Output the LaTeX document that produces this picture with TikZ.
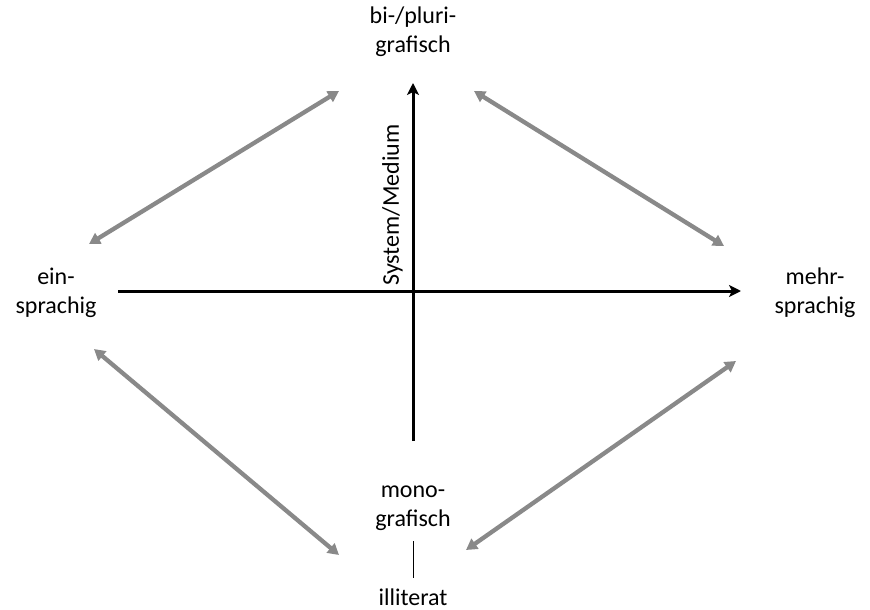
\documentclass[tikz,border=0pt]{standalone}
\usepackage{fontspec}
\setmainfont{Carlito}
\usetikzlibrary{arrows.meta}
\definecolor{arrgray}{RGB}{137,137,137}
\begin{document}
\begin{tikzpicture}[x=1pt,y=-1pt,
  lbl/.style={align=center,inner sep=0pt,font=\fontsize{24}{29}\selectfont},
  axis/.style={line width=3pt,-{Stealth[length=12pt,width=12pt,inset=3pt]}},
  dbl/.style={arrgray,line width=4.3pt,{Triangle[length=11pt,width=12pt]}-{Triangle[length=11pt,width=12pt]}}]
\useasboundingbox (0,0) rectangle (870,610);
% labels
\node[lbl] (top) at (413,32) {bi-/pluri-\\grafisch};
\node[lbl] (left) at (56,293) {ein-\\sprachig};
\node[lbl] (right) at (815,293) {mehr-\\sprachig};
\node[lbl] (bot) at (413,508) {mono-\\grafisch};
\node[lbl] (ill) at (413,597) {illiterat};
% axes
\coordinate (hL) at (118,291);
\coordinate (hR) at (741,291);
\coordinate (vB) at (413,441);
\coordinate (vT) at (413,83);
\draw[axis] (hL) -- (hR);
\draw[axis] (vB) -- (vT);
\node[lbl,rotate=90,anchor=south] (sys) at (403,205) {System/Medium};
% connector bot - illiterat
\coordinate (c1) at (413,541);
\coordinate (c2) at (413,578);
\draw[line width=1pt] (c1) -- (c2);
% gray double arrows
\coordinate (a1) at (89,244);
\coordinate (a2) at (339,91);
\coordinate (b1) at (474,91);
\coordinate (b2) at (724,246);
\coordinate (d1) at (94,349);
\coordinate (d2) at (339,555);
\coordinate (e1) at (466,550);
\coordinate (e2) at (736,361);
\draw[dbl] (a1) -- (a2);
\draw[dbl] (b1) -- (b2);
\draw[dbl] (d1) -- (d2);
\draw[dbl] (e1) -- (e2);
\end{tikzpicture}
\end{document}
